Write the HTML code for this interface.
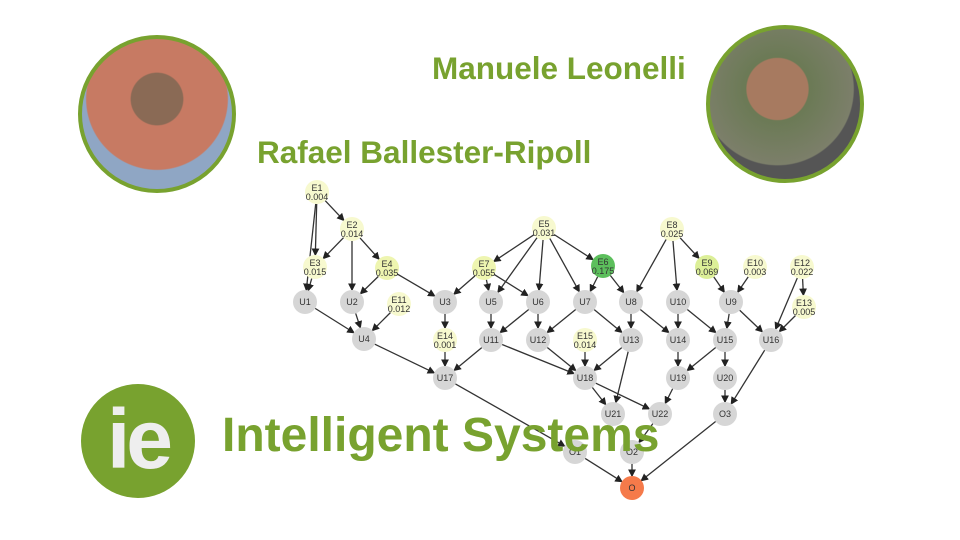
<!DOCTYPE html>
<html><head><meta charset="utf-8"><style>
body{margin:0;width:960px;height:540px;background:#fff;overflow:hidden;position:relative;font-family:"Liberation Sans",sans-serif}
.t{position:absolute;color:#78a22f;font-weight:bold;white-space:nowrap}
svg{position:absolute;left:0;top:0}
</style></head><body>
<svg width="960" height="540" viewBox="0 0 960 540">
<defs><marker id="a" markerWidth="6" markerHeight="6" refX="5" refY="3" orient="auto"><path d="M0,0L6,3L0,6z" fill="#222"/></marker></defs>
<g id="edges" stroke="#333" stroke-width="1.3" marker-end="url(#a)"></g>
<g id="nodes" font-family="Liberation Sans" font-size="9" fill="#333" text-anchor="middle"></g>
</svg>
<div class="t" style="left:432px;top:50px;font-size:31.5px">Manuele Leonelli</div>
<div class="t" style="left:257px;top:134px;font-size:31.5px">Rafael Ballester-Ripoll</div>
<div class="t" style="left:222px;top:408px;font-size:48px">Intelligent Systems</div>
<div style="position:absolute;left:78px;top:35px;width:150px;height:150px;border-radius:50%;border:4px solid #78a22f;background:radial-gradient(circle at 50% 40%,#8a6a55 0 22%,#c77a63 23%,#c77a63 60%,#8fa6c4 61%);"></div>
<div style="position:absolute;left:706px;top:25px;width:150px;height:150px;border-radius:50%;border:4px solid #78a22f;background:radial-gradient(circle at 45% 40%,#a77a60 0 25%,#6b7a55 26%,#7c7f6a 62%,#555 63%);"></div>
<div style="position:absolute;left:81px;top:384px;width:114px;height:114px;border-radius:50%;background:#78a22f;color:#eee;font-weight:bold;font-size:84px;line-height:110px;text-align:center;letter-spacing:-4px">ie</div>
<script>
const N={E1:[317,192,'y','0.004'],E2:[352,229,'y','0.014'],E3:[315,267,'y','0.015'],E4:[387,268,'y2','0.035'],
U1:[305,302],U2:[352,302],E11:[399,304,'y','0.012'],U3:[445,302],U4:[364,339],E14:[445,340,'y','0.001'],
U5:[491,302],U6:[538,302],U7:[585,302],E5:[544,228,'y','0.031'],E7:[484,268,'y2','0.055'],E6:[603,266,'g','0.175'],
U8:[631,302],E8:[672,229,'y','0.025'],E9:[707,267,'y3','0.069'],E10:[755,267,'y','0.003'],E12:[802,267,'y','0.022'],E13:[804,307,'y','0.005'],
U10:[678,302],U9:[731,302],U11:[491,340],U12:[538,340],E15:[585,340,'y','0.014'],U13:[631,340],U14:[678,340],U15:[725,340],U16:[771,340],
U17:[445,378],U18:[585,378],U19:[678,378],U20:[725,378],U21:[613,414],U22:[660,414],O3:[725,414],O1:[575,452],O2:[632,452],O:[632,488,'o']};
const E='E1-E2 E1-E3 E1-U1 E2-E3 E2-U2 E2-E4 E3-U1 E4-U2 E4-U3 U1-U4 U2-U4 E11-U4 U3-E14 E14-U17 U4-U17 E5-E7 E5-U5 E5-U6 E5-U7 E5-E6 E7-U3 E7-U5 E7-U6 E6-U7 E6-U8 E8-U8 E8-U10 E8-E9 E9-U9 E10-U9 E12-E13 E12-U16 E13-U16 U5-U11 U6-U11 U6-U12 U7-U12 U7-U13 U8-U13 U8-U14 U10-U14 U10-U15 U9-U15 U9-U16 U11-U17 U11-U18 U12-U18 E15-U18 U13-U18 U13-U21 U14-U19 U15-U19 U15-U20 U16-O3 U18-U21 U18-U22 U19-U22 U20-O3 U17-O1 U22-O2 O1-O O2-O O3-O'.split(' ');
const ns='http://www.w3.org/2000/svg',eg=document.getElementById('edges'),ng=document.getElementById('nodes');
E.forEach(s=>{const[a,b]=s.split('-'),p=N[a],q=N[b];const dx=q[0]-p[0],dy=q[1]-p[1],d=Math.hypot(dx,dy),r=12;
const l=document.createElementNS(ns,'line');l.setAttribute('x1',p[0]+dx/d*r);l.setAttribute('y1',p[1]+dy/d*r);l.setAttribute('x2',q[0]-dx/d*r);l.setAttribute('y2',q[1]-dy/d*r);eg.appendChild(l);});
const col={y:'#f7f9cf',y2:'#eef5b0',y3:'#dcef98',g:'#5cbf5c',o:'#f57a4a'};
for(const k in N){const v=N[k];const c=document.createElementNS(ns,'circle');c.setAttribute('cx',v[0]);c.setAttribute('cy',v[1]);c.setAttribute('r',12);c.setAttribute('fill',v[2]?col[v[2]]:'#d6d6d6');ng.appendChild(c);
const t=document.createElementNS(ns,'text');t.setAttribute('x',v[0]);if(v[3]){t.setAttribute('y',v[1]-1);t.textContent=k;const t2=document.createElementNS(ns,'text');t2.setAttribute('x',v[0]);t2.setAttribute('y',v[1]+8);t2.textContent=v[3];ng.appendChild(t2);}else{t.setAttribute('y',v[1]+3);t.textContent=k;}ng.appendChild(t);}
</script>
</body></html>
